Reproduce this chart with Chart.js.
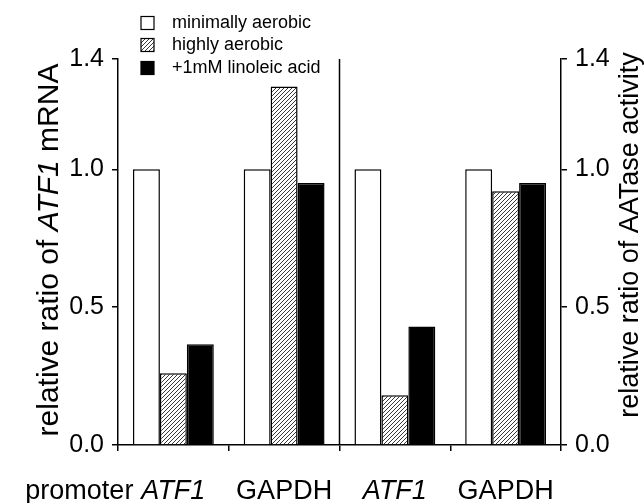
<!DOCTYPE html>
<html>
  <head>
    <meta charset="UTF-8" />
    <title>ATF1 mRNA / AATase activity</title>
    <script src="https://cdn.jsdelivr.net/npm/chart.js"></script>
    <style>
      html, body { margin: 0; padding: 0; background: #ffffff; }
      .chart-box { position: relative; width: 644px; height: 503px; }
    </style>
  </head>
  <body>
    <div class="chart-box">
      <canvas id="myChart"></canvas>
    </div>

    <script>
      // data
      const categories = ["ATF1", "GAPDH", "ATF1", "GAPDH"];
      const seriesNames = ["minimally aerobic", "highly aerobic", "+1mM linoleic acid"];
      const minimallyAerobic = [1.0, 1.0, 1.0, 1.0];
      const highlyAerobic = [0.26, 1.30, 0.18, 0.92];
      const linoleicAcid = [0.365, 0.95, 0.43, 0.95];
      const yTicks = [0.0, 0.5, 1.0, 1.4];

      const FONT = "'Liberation Sans', Arial, Helvetica, sans-serif";
      const X_PAD = 24;

      // diagonal hatch for the "highly aerobic" bars
      function makeHatch() {
        const c = document.createElement("canvas");
        c.width = 4; c.height = 4;
        const g = c.getContext("2d");
        g.fillStyle = "#fff";
        g.fillRect(0, 0, 4, 4);
        g.strokeStyle = "#222";
        g.lineWidth = 0.9;
        g.beginPath();
        g.moveTo(-1, 5); g.lineTo(5, -1);
        g.moveTo(-1, 1); g.lineTo(1, -1);
        g.moveTo(3, 5); g.lineTo(5, 3);
        g.stroke();
        return g.createPattern(c, "repeat");
      }
      const hatch = makeHatch();

      // text made of normal/italic pieces, drawn rotated
      function drawPieces(ctx, pieces, size, x, y) {
        let total = 0;
        pieces.forEach(p => {
          ctx.font = (p.italic ? "italic " : "") + size + "px " + FONT;
          total += ctx.measureText(p.text).width;
        });
        ctx.save();
        ctx.translate(x, y);
        ctx.rotate(-Math.PI / 2);
        ctx.textBaseline = "alphabetic";
        ctx.textAlign = "left";
        let cx = -total / 2;
        pieces.forEach(p => {
          ctx.font = (p.italic ? "italic " : "") + size + "px " + FONT;
          ctx.fillText(p.text, cx, 0);
          cx += ctx.measureText(p.text).width;
        });
        ctx.restore();
      }

      const extras = {
        id: "extras",
        afterDraw(chart) {
          const ctx = chart.ctx;
          const x = chart.scales.x;
          const y = chart.scales.y;
          const area = chart.chartArea;
          ctx.save();
          ctx.fillStyle = "#000";
          ctx.strokeStyle = "#000";

          // divider between mRNA part and activity part
          const xd = (x.getPixelForValue(1) + x.getPixelForValue(2)) / 2;
          ctx.lineWidth = 1.5;
          ctx.beginPath();
          ctx.moveTo(xd, area.bottom);
          ctx.lineTo(xd, y.getPixelForValue(1.4));
          ctx.stroke();

          // legend
          const ds = chart.data.datasets;
          const rows = [23, 45, 68];
          ds.forEach((d, i) => {
            ctx.fillStyle = d.backgroundColor;
            ctx.fillRect(141, rows[i] - 6.5, 13, 13);
            ctx.lineWidth = 1.2;
            ctx.strokeStyle = "#000";
            ctx.strokeRect(141, rows[i] - 6.5, 13, 13);
            ctx.fillStyle = "#000";
            ctx.font = "18px " + FONT;
            ctx.textBaseline = "middle";
            ctx.textAlign = "left";
            ctx.fillText(d.label, 172, rows[i]);
          });

          // row label left of the first category, same line as the tick labels
          ctx.font = "italic 27px " + FONT;
          const w0 = ctx.measureText(categories[0]).width;
          ctx.font = "27px " + FONT;
          ctx.textAlign = "right";
          ctx.textBaseline = "top";
          ctx.fillText("promoter", x.getPixelForValue(0) - w0 / 2 - 8, area.bottom + 6 + X_PAD + 3);

          // axis titles
          const midY = (area.top + area.bottom) / 2;
          drawPieces(ctx, [
            { text: "relative ratio of " },
            { text: "ATF1", italic: true },
            { text: " mRNA" }
          ], 30, 58, midY - 2);
          drawPieces(ctx, [
            { text: "relative ratio of AATase activity" }
          ], 27, 638, midY - 17);

          ctx.restore();
        }
      };

      const yAxis = (pos, width) => ({
        position: pos,
        min: 0,
        max: 1.4,
        afterBuildTicks: s => { s.ticks = yTicks.map(v => ({ value: v })); },
        afterFit: s => { s.width = width; },
        ticks: {
          callback: v => Number(v).toFixed(1),
          font: { family: FONT, size: 25 },
          color: "#000",
          padding: 8
        },
        grid: {
          drawOnChartArea: false,
          drawTicks: true,
          tickLength: 6,
          color: "#000",
          lineWidth: 1.5
        },
        border: { display: true, color: "#000", width: 1.5 }
      });

      const ctx = document.getElementById("myChart").getContext("2d");
      new Chart(ctx, {
        type: "bar",
        data: {
          labels: categories,
          datasets: [
            {
              label: seriesNames[0],
              data: minimallyAerobic,
              backgroundColor: "#ffffff",
              borderColor: "#000",
              borderWidth: 1.5
            },
            {
              label: seriesNames[1],
              data: highlyAerobic,
              backgroundColor: hatch,
              borderColor: "#000",
              borderWidth: 1.5
            },
            {
              label: seriesNames[2],
              data: linoleicAcid,
              backgroundColor: "#000000",
              borderColor: "#000",
              borderWidth: 1.5
            }
          ]
        },
        options: {
          responsive: true,
          maintainAspectRatio: false,
          animation: false,
          barPercentage: 1.0,
          categoryPercentage: 0.73,
          layout: { padding: { top: 59, left: 0, right: 0, bottom: 0 } },
          plugins: {
            legend: { display: false },
            tooltip: { enabled: false }
          },
          scales: {
            x: {
              afterFit: s => { s.height = 58; },
              ticks: {
                font: c => ({ family: FONT, size: 27, style: c.index % 2 === 0 ? "italic" : "normal" }),
                color: "#000",
                padding: X_PAD
              },
              grid: {
                offset: true,
                drawOnChartArea: false,
                drawTicks: true,
                tickLength: 6,
                color: "#000",
                lineWidth: 1.5
              },
              border: { display: true, color: "#000", width: 1.5 }
            },
            y: yAxis("left", 118),
            y2: yAxis("right", 83)
          }
        },
        plugins: [extras]
      });
    </script>
  </body>
</html>
